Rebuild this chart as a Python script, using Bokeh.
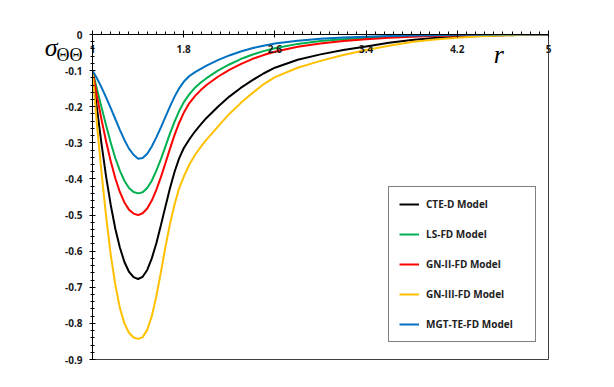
from bokeh.plotting import figure
from bokeh.models import Range1d, FixedTicker, Label, LinearAxis
from bokeh.embed import file_html
from bokeh.resources import INLINE

# ---- data ----
r = [1.0, 1.04, 1.08, 1.12, 1.16, 1.2, 1.24, 1.28, 1.32, 1.36, 1.4, 1.44, 1.48, 1.52,
     1.56, 1.6, 1.64, 1.68, 1.72, 1.76, 1.8, 1.85, 1.9, 1.95, 2.0, 2.1, 2.2, 2.3, 2.4,
     2.5, 2.6, 2.8, 3.0, 3.2, 3.4, 3.6, 3.8, 4.0, 4.2, 4.4, 4.6, 4.8, 5.0]

cte_d = [-0.100, -0.207, -0.305, -0.395, -0.472, -0.538, -0.590, -0.630, -0.657, -0.672,
         -0.677, -0.671, -0.652, -0.620, -0.578, -0.528, -0.476, -0.425, -0.380, -0.343,
         -0.315, -0.290, -0.268, -0.249, -0.231, -0.200, -0.172, -0.148, -0.127, -0.108,
         -0.092, -0.070, -0.055, -0.043, -0.033, -0.023, -0.015, -0.010, -0.006, -0.004,
         -0.002, -0.001, 0.0]
ls_fd = [-0.100, -0.152, -0.203, -0.252, -0.300, -0.342, -0.377, -0.405, -0.425, -0.436,
         -0.440, -0.437, -0.425, -0.405, -0.377, -0.345, -0.310, -0.274, -0.241, -0.212,
         -0.188, -0.165, -0.147, -0.133, -0.121, -0.100, -0.083, -0.068, -0.056, -0.046,
         -0.038, -0.026, -0.018, -0.013, -0.009, -0.006, -0.004, -0.003, -0.002, -0.001,
         -0.001, 0.0, 0.0]
gn2_fd = [-0.100, -0.172, -0.237, -0.297, -0.351, -0.398, -0.436, -0.465, -0.485, -0.496,
          -0.500, -0.495, -0.482, -0.460, -0.430, -0.395, -0.356, -0.316, -0.278, -0.245,
          -0.217, -0.190, -0.170, -0.154, -0.140, -0.117, -0.098, -0.082, -0.068, -0.057,
          -0.048, -0.034, -0.025, -0.018, -0.013, -0.009, -0.006, -0.004, -0.003, -0.002,
          -0.001, -0.001, 0.0]
gn3_fd = [-0.100, -0.253, -0.385, -0.505, -0.610, -0.693, -0.757, -0.800, -0.826, -0.839,
          -0.843, -0.838, -0.818, -0.780, -0.725, -0.658, -0.588, -0.524, -0.470, -0.426,
          -0.394, -0.360, -0.333, -0.311, -0.291, -0.255, -0.220, -0.190, -0.163, -0.138,
          -0.118, -0.092, -0.073, -0.057, -0.043, -0.031, -0.021, -0.014, -0.009, -0.005,
          -0.003, -0.001, 0.0]
mgt_te_fd = [-0.100, -0.122, -0.147, -0.175, -0.204, -0.234, -0.264, -0.292, -0.316, -0.333,
             -0.344, -0.342, -0.330, -0.310, -0.285, -0.257, -0.228, -0.199, -0.172, -0.149,
             -0.131, -0.115, -0.104, -0.095, -0.086, -0.071, -0.058, -0.047, -0.038, -0.031,
             -0.025, -0.017, -0.012, -0.008, -0.006, -0.004, -0.003, -0.002, -0.001, -0.001,
             0.0, 0.0, 0.0]

series_names = ["CTE-D Model", "LS-FD Model", "GN-II-FD Model", "GN-III-FD Model", "MGT-TE-FD Model"]
series_values = [cte_d, ls_fd, gn2_fd, gn3_fd, mgt_te_fd]
series_colors = ["#000000", "#00B050", "#FF0000", "#FFC000", "#0070C0"]

x_ticks = [1, 1.8, 2.6, 3.4, 4.2, 5]
x_tick_labels = ["1", "1.8", "2.6", "3.4", "4.2", "5"]
y_ticks = [0, -0.1, -0.2, -0.3, -0.4, -0.5, -0.6, -0.7, -0.8, -0.9]
y_tick_labels = ["0", "-0.1", "-0.2", "-0.3", "-0.4", "-0.5", "-0.6", "-0.7", "-0.8", "-0.9"]

y_title_main = "σ"
y_title_sub = "ΘΘ"
x_title = "r"

# ---- figure ----
p = figure(frame_width=456, frame_height=325,
           min_border_left=92, min_border_right=58, min_border_top=34, min_border_bottom=20,
           x_range=Range1d(1, 5), y_range=Range1d(-0.9, 0),
           x_axis_location="above", y_axis_location="left",
           output_backend="svg", toolbar_location=None, background_fill_color="white",
           border_fill_color="white")
p.grid.visible = False
p.outline_line_color = "#404040"
p.outline_line_width = 1

for name, vals, col in zip(series_names, series_values, series_colors):
    p.line(r, vals, line_color=col, line_width=2, legend_label=name)

tick_font = "Open Sans"

xa = p.xaxis[0]
xa.ticker = FixedTicker(ticks=x_ticks,
                        minor_ticks=[1 + 0.08 * i for i in range(51)])
xa.major_label_overrides = {t: l for t, l in zip(x_ticks, x_tick_labels)}
xa.axis_line_color = "black"
xa.major_tick_line_color = "black"
xa.minor_tick_line_color = "black"
xa.major_tick_out = 4
xa.major_tick_in = 3
xa.minor_tick_out = 3
xa.minor_tick_in = 0
xa.major_label_standoff = -22
xa.major_label_text_font = tick_font
xa.major_label_text_font_style = "bold"
xa.major_label_text_font_size = "10px"
xa.major_label_text_color = "#1a1a1a"

ya = p.yaxis[0]
ya.ticker = FixedTicker(ticks=y_ticks,
                        minor_ticks=[-0.02 * i for i in range(46)])
ya.major_label_overrides = {t: l for t, l in zip(y_ticks, y_tick_labels)}
ya.axis_line_color = "black"
ya.major_tick_line_color = "black"
ya.minor_tick_line_color = "black"
ya.major_tick_out = 3
ya.major_tick_in = 3
ya.minor_tick_out = 2
ya.minor_tick_in = 2
ya.major_label_standoff = 7
ya.major_label_text_font = tick_font
ya.major_label_text_font_style = "bold"
ya.major_label_text_font_size = "10px"
ya.major_label_text_color = "#1a1a1a"

# y-axis title "σΘΘ" drawn as labels of two bare extra axes (not clipped by the frame)
p.extra_y_ranges = {"title": Range1d(-0.9, 0)}
sub_pos = -0.058
main_pos = -0.037


def title_axis(pos, text, font, style, size, standoff):
    ax = LinearAxis(y_range_name="title", ticker=FixedTicker(ticks=[pos], minor_ticks=[]),
                    major_label_overrides={pos: text})
    ax.axis_line_color = None
    ax.major_tick_line_color = None
    ax.minor_tick_line_color = None
    ax.major_tick_out = 0
    ax.major_tick_in = 0
    ax.minor_tick_out = 0
    ax.minor_tick_in = 0
    ax.major_label_standoff = standoff
    ax.major_label_text_font = font
    ax.major_label_text_font_style = style
    ax.major_label_text_font_size = size
    ax.major_label_text_color = "black"
    ax.major_label_text_baseline = "alphabetic"
    ax.major_label_text_align = "right"
    return ax


p.add_layout(title_axis(sub_pos, y_title_sub, "Liberation Serif", "normal", "18px", -21), "left")
p.add_layout(title_axis(main_pos, y_title_main, "Liberation Serif", "italic", "26px", -4), "left")

p.add_layout(Label(x=4.52, y=-0.056, text=x_title, text_font="Liberation Serif",
                   text_font_style="italic", text_font_size="26px", text_color="black",
                   text_baseline="alphabetic"))

lg = p.legend[0]
lg.location = (296, 17)
lg.border_line_color = "black"
lg.border_line_width = 1
lg.background_fill_color = "white"
lg.background_fill_alpha = 1
lg.padding = 10
lg.spacing = 16
lg.glyph_height = 14
lg.glyph_width = 20
lg.label_standoff = 7
lg.label_width = 99
lg.label_text_font = tick_font
lg.label_text_font_style = "bold"
lg.label_text_font_size = "10px"
lg.label_text_color = "#222222"
lg.margin = 0

html = file_html(p, INLINE)
open("out.html", "w").write(html)
